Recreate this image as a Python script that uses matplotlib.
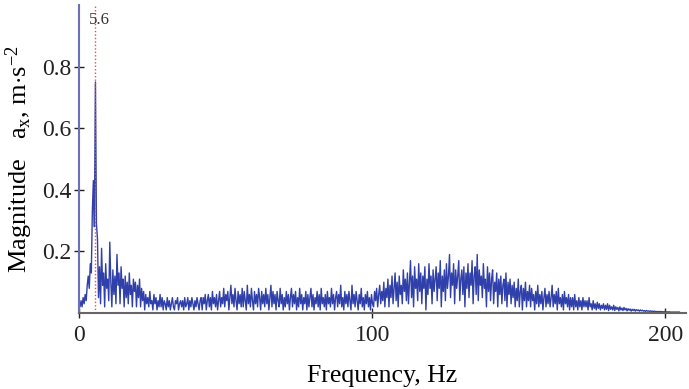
import numpy as np
import matplotlib
matplotlib.use("Agg")
import matplotlib.pyplot as plt

plt.rcParams['font.family'] = ['Liberation Serif', 'DejaVu Serif']
plt.rcParams['mathtext.fontset'] = 'custom'
plt.rcParams['mathtext.rm'] = 'Liberation Serif'
plt.rcParams['mathtext.it'] = 'Liberation Serif:italic'

# spectrum bins, 0.35 Hz apart
df_hz = 0.35
magnitude = [
    # 0 - 6.65 Hz
    0.03, 0.02, 0.04, 0.02, 0.05, 0.03, 0.06, 0.04, 0.09, 0.12, 0.08, 0.16, 0.13, 0.33, 0.43, 0.28, 0.75, 0.29, 0.24, 0.05,
    # 7 - 13.65
    0.15, 0.03, 0.21, 0.09, 0.13, 0.02, 0.16, 0.08, 0.11, 0.04, 0.23, 0.10, 0.02, 0.14, 0.06, 0.12, 0.03, 0.19, 0.09, 0.13,
    # 14 - 20.65
    0.03, 0.15, 0.08, 0.11, 0.02, 0.12, 0.05, 0.10, 0.03, 0.13, 0.06, 0.09, 0.02, 0.11, 0.07, 0.10, 0.02, 0.09, 0.05, 0.11,
    # 21 - 27.65
    0.02, 0.08, 0.04, 0.07, 0.01, 0.06, 0.03, 0.05, 0.02, 0.07, 0.03, 0.04, 0.01, 0.06, 0.03, 0.05, 0.01, 0.04, 0.02, 0.06,
    # 28 - 34.65
    0.02, 0.05, 0.01, 0.04, 0.03, 0.01, 0.05, 0.02, 0.04, 0.01, 0.03, 0.05, 0.02, 0.01, 0.04, 0.03, 0.05, 0.01, 0.03, 0.04,
    # 35 - 41.65
    0.02, 0.04, 0.01, 0.05, 0.02, 0.03, 0.05, 0.01, 0.04, 0.02, 0.05, 0.03, 0.01, 0.04, 0.02, 0.05, 0.03, 0.01, 0.04, 0.05,
    # 42 - 48.65
    0.01, 0.05, 0.03, 0.06, 0.01, 0.04, 0.06, 0.02, 0.05, 0.01, 0.07, 0.03, 0.05, 0.02, 0.06, 0.01, 0.04, 0.07, 0.02, 0.05,
    # 49 - 55.65
    0.03, 0.08, 0.02, 0.06, 0.04, 0.07, 0.01, 0.05, 0.09, 0.03, 0.06, 0.02, 0.08, 0.04, 0.01, 0.07, 0.03, 0.06, 0.02, 0.08,
    # 56 - 62.65
    0.02, 0.07, 0.04, 0.01, 0.09, 0.03, 0.06, 0.02, 0.08, 0.04, 0.01, 0.07, 0.03, 0.06, 0.02, 0.08, 0.05, 0.01, 0.07, 0.03,
    # 63 - 69.65
    0.06, 0.02, 0.08, 0.03, 0.06, 0.01, 0.05, 0.09, 0.02, 0.07, 0.03, 0.06, 0.01, 0.07, 0.04, 0.02, 0.08, 0.03, 0.06, 0.01,
    # 70 - 76.65
    0.05, 0.02, 0.07, 0.03, 0.06, 0.01, 0.05, 0.08, 0.02, 0.06, 0.03, 0.07, 0.01, 0.05, 0.02, 0.08, 0.03, 0.06, 0.01, 0.05,
    # 77 - 83.65
    0.03, 0.07, 0.01, 0.06, 0.02, 0.05, 0.08, 0.02, 0.06, 0.01, 0.05, 0.03, 0.07, 0.02, 0.06, 0.01, 0.08, 0.03, 0.05, 0.02,
    # 84 - 90.65
    0.06, 0.01, 0.07, 0.03, 0.05, 0.02, 0.08, 0.03, 0.06, 0.01, 0.05, 0.07, 0.02, 0.06, 0.03, 0.09, 0.02, 0.05, 0.01, 0.07,
    # 91 - 97.65
    0.03, 0.06, 0.02, 0.07, 0.04, 0.01, 0.09, 0.03, 0.06, 0.02, 0.07, 0.04, 0.01, 0.06, 0.03, 0.08, 0.02, 0.05, 0.01, 0.06,
    # 98 - 104.65
    0.03, 0.07, 0.02, 0.05, 0.01, 0.06, 0.03, 0.02, 0.07, 0.04, 0.08, 0.02, 0.06, 0.09, 0.03, 0.07, 0.04, 0.10, 0.02, 0.08,
    # 105 - 111.65
    0.05, 0.11, 0.02, 0.09, 0.05, 0.12, 0.03, 0.08, 0.13, 0.04, 0.10, 0.02, 0.12, 0.06, 0.09, 0.03, 0.14, 0.07, 0.11, 0.04,
    # 112 - 118.65
    0.13, 0.03, 0.10, 0.17, 0.05, 0.12, 0.02, 0.15, 0.08, 0.11, 0.04, 0.16, 0.07, 0.13, 0.03, 0.12, 0.08, 0.15, 0.01, 0.11,
    # 119 - 125.65
    0.06, 0.16, 0.08, 0.12, 0.03, 0.14, 0.07, 0.11, 0.15, 0.04, 0.13, 0.08, 0.17, 0.02, 0.12, 0.07, 0.14, 0.04, 0.16, 0.08,
    # 126 - 132.65
    0.12, 0.19, 0.05, 0.13, 0.09, 0.16, 0.03, 0.14, 0.08, 0.12, 0.17, 0.04, 0.11, 0.14, 0.06, 0.15, 0.02, 0.13, 0.08, 0.16,
    # 133 - 139.65
    0.05, 0.13, 0.09, 0.17, 0.03, 0.12, 0.15, 0.06, 0.19, 0.04, 0.14, 0.09, 0.12, 0.05, 0.16, 0.08, 0.11, 0.02, 0.15, 0.07,
    # 140 - 146.65
    0.13, 0.04, 0.11, 0.14, 0.03, 0.10, 0.07, 0.13, 0.02, 0.11, 0.06, 0.12, 0.03, 0.09, 0.11, 0.04, 0.13, 0.02, 0.10, 0.06,
    # 147 - 153.65
    0.11, 0.03, 0.09, 0.05, 0.10, 0.02, 0.08, 0.04, 0.11, 0.02, 0.07, 0.09, 0.01, 0.08, 0.04, 0.10, 0.02, 0.07, 0.04, 0.09,
    # 154 - 160.65
    0.02, 0.08, 0.04, 0.06, 0.01, 0.07, 0.03, 0.09, 0.02, 0.06, 0.03, 0.07, 0.01, 0.05, 0.08, 0.02, 0.06, 0.03, 0.07, 0.02,
    # 161 - 167.65
    0.05, 0.09, 0.02, 0.06, 0.03, 0.07, 0.01, 0.08, 0.03, 0.05, 0.02, 0.06, 0.01, 0.07, 0.03, 0.05, 0.02, 0.06, 0.01, 0.05,
    # 168 - 174.65
    0.02, 0.05, 0.01, 0.06, 0.02, 0.04, 0.01, 0.05, 0.02, 0.04, 0.01, 0.05, 0.02, 0.04, 0.02, 0.04, 0.01, 0.05, 0.02, 0.03,
    # 175 - 181.65
    0.01, 0.04, 0.015, 0.03, 0.01, 0.035, 0.015, 0.03, 0.01, 0.025, 0.015, 0.03, 0.01, 0.025, 0.012, 0.03, 0.008, 0.025, 0.012, 0.02,
    # 182 - 188.65
    0.01, 0.025, 0.008, 0.02, 0.012, 0.018, 0.007, 0.02, 0.01, 0.016, 0.008, 0.018, 0.01, 0.015, 0.007, 0.014, 0.009, 0.013, 0.006, 0.012,
    # 189 - 195.65
    0.008, 0.012, 0.006, 0.011, 0.008, 0.01, 0.006, 0.01, 0.007, 0.009, 0.006, 0.008, 0.005, 0.008, 0.006, 0.007, 0.005, 0.007, 0.005, 0.006,
    # 196 - 202.65
    0.005, 0.006, 0.004, 0.005, 0.004, 0.005, 0.004, 0.005, 0.004, 0.004, 0.004, 0.004, 0.003, 0.004, 0.003, 0.004, 0.003, 0.003, 0.003, 0.003,
    # 203 - 204.75
    0.003, 0.003, 0.003, 0.003, 0.003, 0.003,
]
peak_hz = 5.6
x_ticks = [0, 100, 200]
y_ticks = [0.2, 0.4, 0.6, 0.8]

freq = np.arange(len(magnitude)) * df_hz

fig = plt.figure(figsize=(6.89, 3.89), dpi=100)
ax = fig.add_axes([79 / 689, 76 / 389, 607 / 689, 308 / 389])

ax.plot(freq, magnitude, color='#3040aa', lw=1.0)
ax.axvline(peak_hz, color='#f04848', ls=(0, (1, 1.5)), lw=1.0)
ax.text(peak_hz + 1.2, 0.95, '5.6', ha='center', va='center', fontsize=12, color='#333333')

ax.set_xlim(0, 207)
ax.set_ylim(0, 1.0)
ax.set_xticks(x_ticks)
ax.set_yticks(y_ticks)
ax.tick_params(direction='inout', length=7, width=1, labelsize=17, colors='#222222')
ax.tick_params(axis='x', pad=5)
ax.tick_params(axis='y', pad=2)

ax.spines['top'].set_visible(False)
ax.spines['right'].set_visible(False)
ax.spines['left'].set_color('#6f6fb5')
ax.spines['left'].set_linewidth(1.5)
ax.spines['bottom'].set_color('#666666')
ax.spines['bottom'].set_linewidth(1.5)

ax.set_xlabel('Frequency, Hz', fontsize=18.5, labelpad=14)
ax.set_ylabel(r'Magnitude   a$_{\mathrm{x}}$, m$\cdot$s$^{\mathrm{-2}}$', fontsize=19, labelpad=5)

plt.savefig('out.png', dpi=100)
